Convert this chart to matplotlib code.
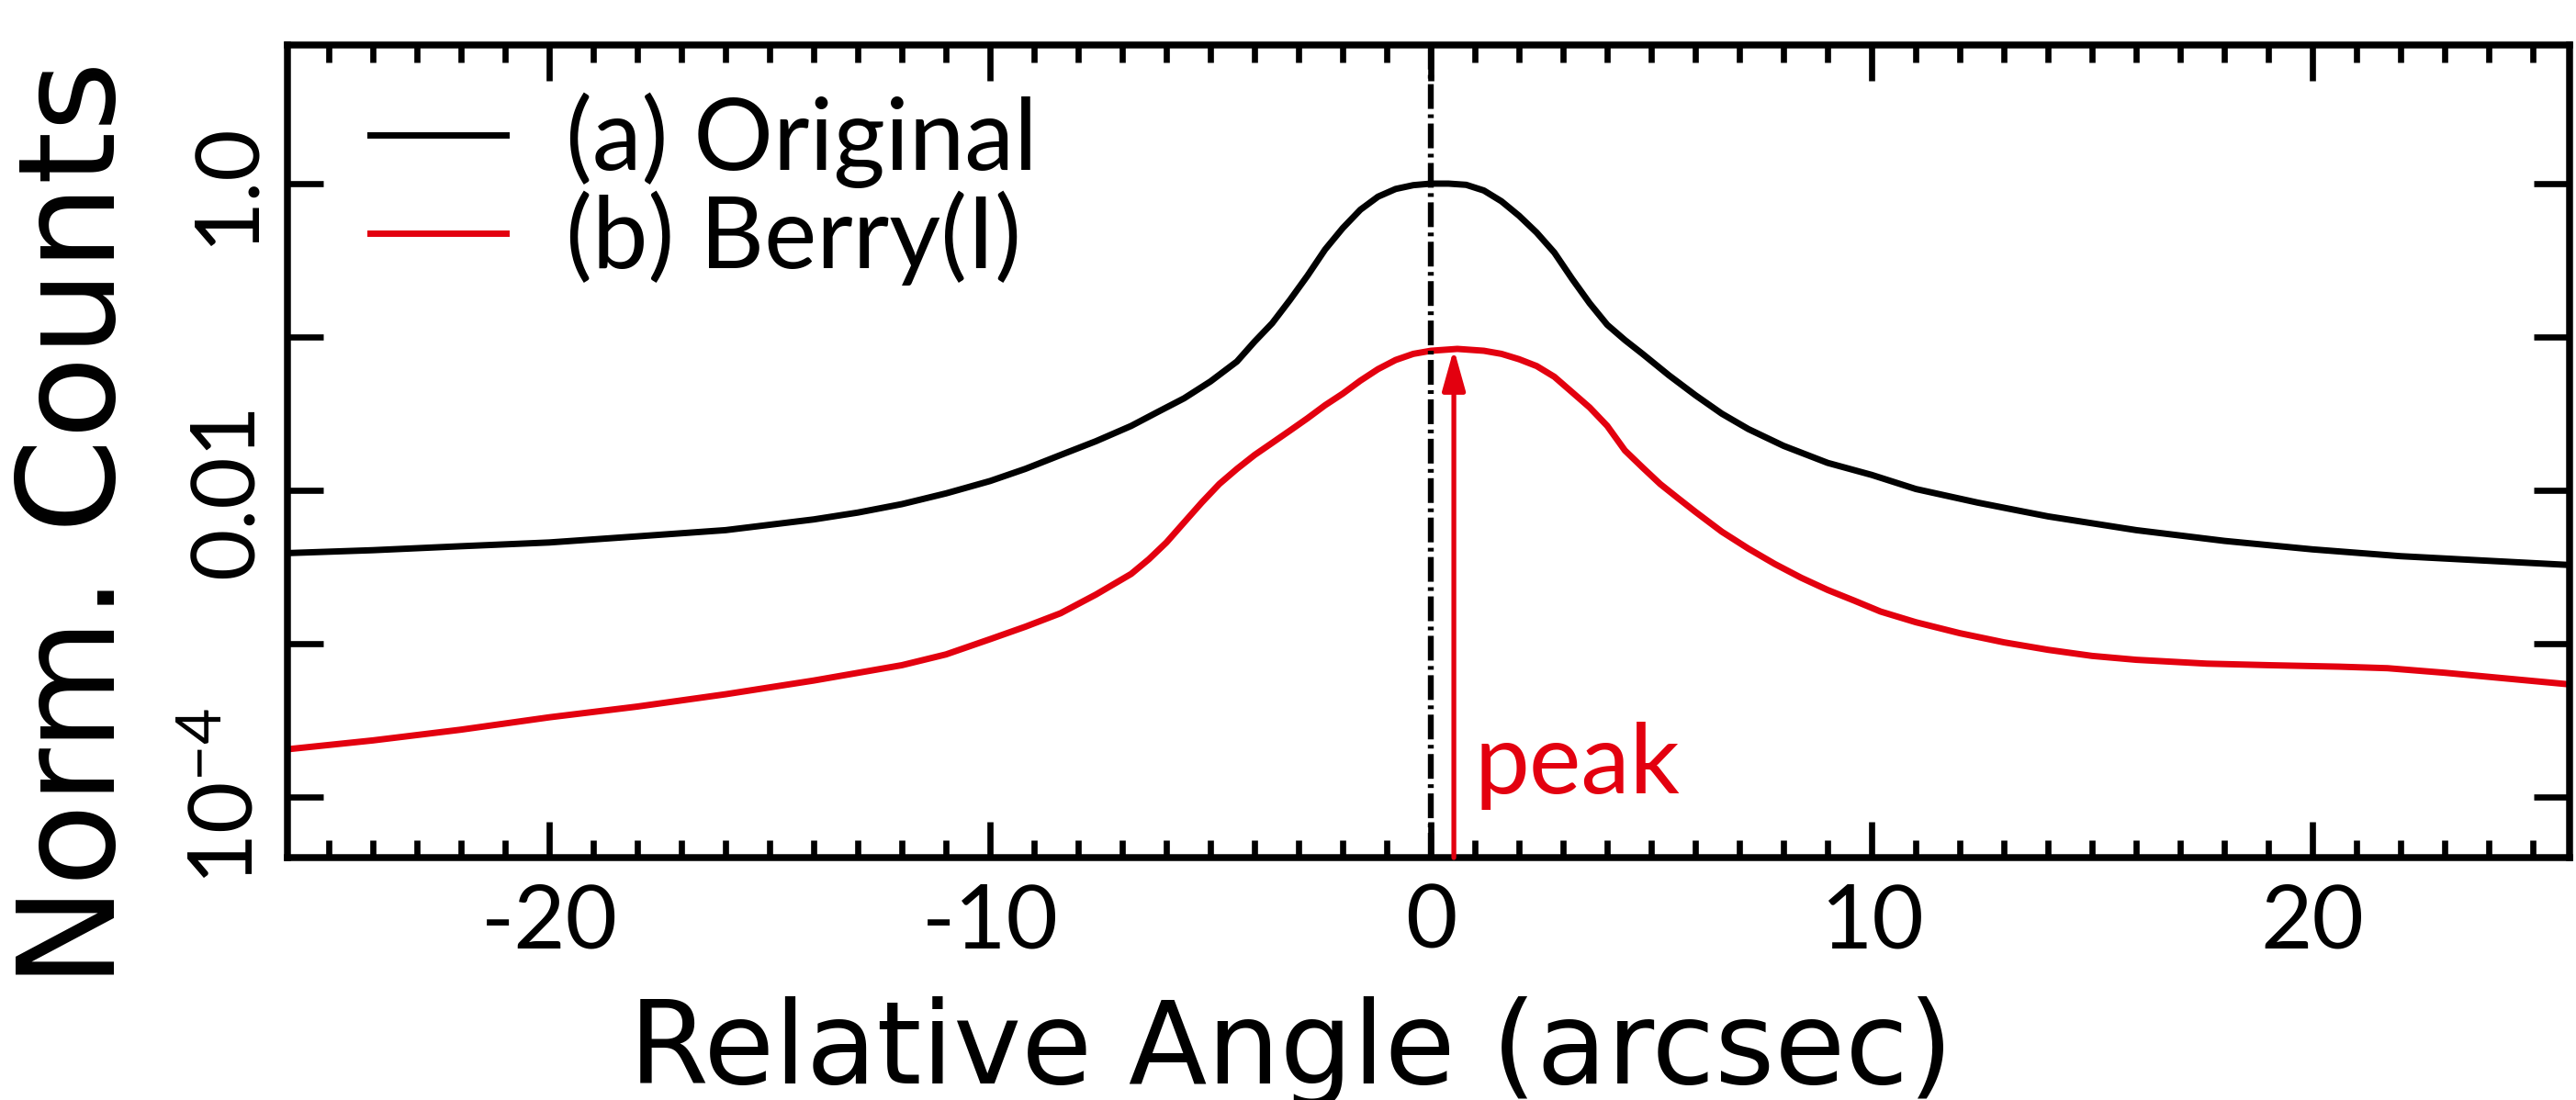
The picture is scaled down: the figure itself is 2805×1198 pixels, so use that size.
import matplotlib
matplotlib.use('Agg')
import matplotlib.pyplot as plt
from matplotlib.ticker import MultipleLocator, LogLocator, NullFormatter

plt.rcParams['font.family'] = ['Lato', 'DejaVu Sans']
plt.rcParams['mathtext.fontset'] = 'custom'
plt.rcParams['mathtext.rm'] = 'Lato'
plt.rcParams['mathtext.default'] = 'regular'
plt.rcParams['axes.unicode_minus'] = False
plt.rcParams['lines.scale_dashes'] = False

RED = '#e3000f'

# (a) original profile
angle_orig = [-26, -24, -22, -20, -18, -16, -14, -13, -12, -11, -10, -9.2, -8.4, -7.6,
              -6.8, -6.2, -5.6, -5.0, -4.4, -4.0, -3.6, -3.2, -2.8, -2.4, -2.0, -1.6,
              -1.2, -0.8, -0.4, 0.0, 0.4, 0.8, 1.2, 1.6, 2.0, 2.4, 2.8, 3.2, 3.6, 4.0,
              4.4, 4.8, 5.4, 6.0, 6.6, 7.2, 8.0, 9.0, 10.0, 11.0, 12.4, 14.0, 16.0,
              18.0, 20.0, 22.0, 24.0, 26.0]
counts_orig = [0.00389, 0.00407, 0.00432, 0.00457, 0.00501, 0.00550, 0.00646, 0.00716,
               0.00813, 0.00955, 0.0115, 0.0138, 0.0170, 0.0209, 0.0263, 0.0324, 0.0398,
               0.0513, 0.0692, 0.0933, 0.123, 0.174, 0.251, 0.372, 0.513, 0.676, 0.822,
               0.923, 0.977, 1.0, 1.0, 0.982, 0.902, 0.767, 0.617, 0.479, 0.355, 0.240,
               0.166, 0.120, 0.0955, 0.0776, 0.0562, 0.0417, 0.0316, 0.0251, 0.0195,
               0.0151, 0.0126, 0.0102, 0.00832, 0.00676, 0.00550, 0.00468, 0.00412,
               0.00372, 0.00347, 0.00324]

# (b) Berry deconvolved profile
angle_berry = [-26, -24, -22, -20, -18, -16, -14, -12, -11, -10, -9.2, -8.4, -7.6, -6.8,
               -6.4, -6.0, -5.6, -5.2, -4.8, -4.4, -4.0, -3.6, -3.2, -2.8, -2.4, -2.0,
               -1.6, -1.2, -0.8, -0.4, 0.0, 0.6, 1.2, 1.6, 2.0, 2.4, 2.8, 3.2, 3.6, 4.0,
               4.4, 4.8, 5.2, 5.6, 6.0, 6.6, 7.2, 7.8, 8.4, 9.0, 9.6, 10.2, 11.0, 12.0,
               13.0, 14.0, 15.0, 16.0, 17.6, 19.0, 20.6, 21.7, 23.0, 24.5, 26.0]
counts_berry = [2.04e-4, 2.34e-4, 2.75e-4, 3.31e-4, 3.89e-4, 4.68e-4, 5.75e-4, 7.24e-4,
                8.51e-4, 1.07e-3, 1.29e-3, 1.58e-3, 2.09e-3, 2.85e-3, 3.55e-3, 4.57e-3,
                6.17e-3, 8.32e-3, 0.0110, 0.0138, 0.0170, 0.0204, 0.0245, 0.0295, 0.0359,
                0.0427, 0.0519, 0.0617, 0.0708, 0.0776, 0.0813, 0.0836, 0.0813, 0.0776,
                0.0716, 0.0646, 0.0550, 0.0437, 0.0347, 0.0263, 0.0182, 0.0141, 0.0110,
                0.00891, 0.00724, 0.00537, 0.00417, 0.00331, 0.00269, 0.00224, 0.00191,
                0.00162, 0.00138, 0.00117, 1.02e-3, 9.12e-4, 8.32e-4, 7.85e-4, 7.41e-4,
                7.24e-4, 7.08e-4, 6.92e-4, 6.46e-4, 5.89e-4, 5.37e-4]

peak_angle = 0.52
peak_value = 0.0836

W, H = 2805, 1198
fig = plt.figure(figsize=(W / 100, H / 100), dpi=100)
ax = fig.add_axes([312.5 / W, 1 - 934 / H, (2798 - 312.5) / W, (934 - 48.5) / H])

ax.plot(angle_orig, counts_orig, color='black', lw=5.0, label='(a) Original')
ax.plot(angle_berry, counts_berry, color=RED, lw=5.0, label='(b) Berry(I)')
ax.axvline(0, color='black', lw=4.6, ls=(0, (19.4, 4.3, 2.9, 4.3)))

# arrow marking the peak of the deconvolved profile
ax.annotate('', xy=(peak_angle, peak_value), xycoords='data',
            xytext=(peak_angle, 0), textcoords=('data', 'axes fraction'),
            arrowprops=dict(arrowstyle='-|>,head_length=1.0,head_width=0.28',
                            mutation_scale=27, color=RED, lw=3.8,
                            shrinkA=0, shrinkB=0))
ax.text(0.98, 1.05e-4, 'peak', color=RED, fontsize=77, va='baseline', ha='left')

ax.set_yscale('log')
ax.set_xlim(-25.95, 25.83)
ax.set_ylim(10 ** -4.395, 10 ** 0.907)

ax.set_xticks([-20, -10, 0, 10, 20])
ax.xaxis.set_minor_locator(MultipleLocator(1))
ax.set_yticks([1e-4, 1e-3, 1e-2, 1e-1, 1],
              labels=['$10^{-4}$', '', '0.01', '', '1.0'])
ax.yaxis.set_minor_locator(LogLocator(base=10, subs=(2, 4, 6, 8)))
ax.yaxis.set_minor_formatter(NullFormatter())

ax.tick_params(which='both', direction='in', top=True, right=True, width=4.8,
               labelsize=70)
ax.tick_params(which='major', length=28)
ax.tick_params(which='minor', length=14)
ax.tick_params(axis='x', pad=71)
ax.tick_params(axis='y', pad=27)
for lab in ax.get_xticklabels():
    lab.set_verticalalignment('baseline')
for lab in ax.get_yticklabels():
    lab.set_rotation(90)
    lab.set_rotation_mode('anchor')
    lab.set_horizontalalignment('center')
    lab.set_verticalalignment('baseline')

for sp in ax.spines.values():
    sp.set_linewidth(5.4)

ax.set_xlabel('Relative Angle (arcsec)', fontsize=90, family='DejaVu Sans',
              va='baseline', ha='center')
ax.xaxis.set_label_coords((1406 - 312.5) / 2485.5, (934 - 1180) / 885.5)
ax.set_ylabel('Norm. Counts', fontsize=106, family='DejaVu Sans', rotation=90,
              rotation_mode='anchor', va='baseline', ha='center')
ax.yaxis.set_label_coords((125 - 312.5) / 2485.5, (934 - 570) / 885.5)

ax.legend(loc='upper left', bbox_to_anchor=((403 - 312.5) / 2485.5, (934 - 101) / 885.5),
          fontsize=78, frameon=False, borderpad=0, borderaxespad=0,
          handlelength=1.37, handletextpad=0.6, labelspacing=0.02)

fig.savefig('out.png', dpi=100)
